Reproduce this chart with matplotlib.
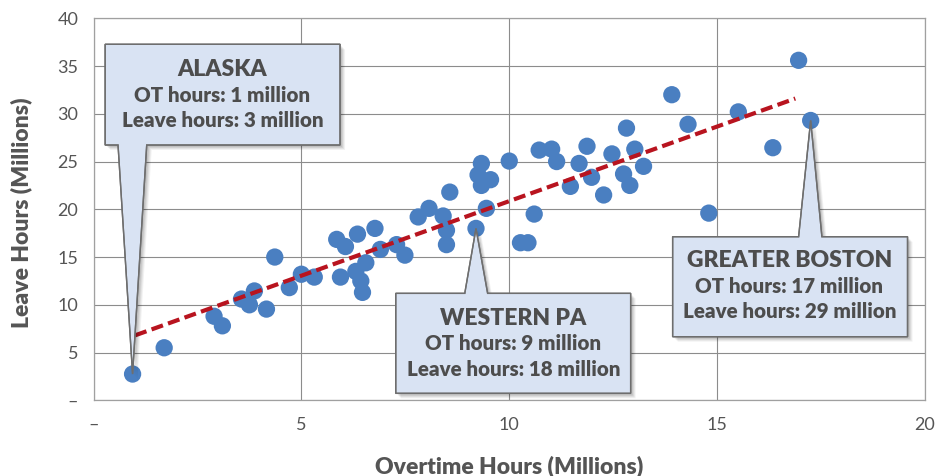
import numpy as np
import matplotlib
matplotlib.use("Agg")
import matplotlib.pyplot as plt
from matplotlib.patches import Polygon
import matplotlib.transforms as mtransforms

plt.rcParams['font.family'] = ['Lato', 'DejaVu Sans']

# ---- data (millions of hours) ----
ot_hours = [0.94, 1.70, 2.90, 3.10, 3.56, 3.75, 3.87, 4.16, 4.36, 4.71,
            5.00, 5.31, 5.85, 6.06, 6.35, 5.94, 6.31, 6.55, 6.43, 6.47,
            6.77, 6.90, 7.29, 7.49, 7.81, 8.07, 8.41, 8.49, 8.49, 8.57,
            9.20, 9.45, 9.33, 9.25, 9.55, 9.33, 10.00, 10.60, 10.27, 10.45,
            10.72, 11.02, 11.14, 11.47, 11.68, 11.87, 11.98, 12.27, 12.47, 12.82,
            12.75, 12.90, 13.02, 13.23, 13.91, 14.30, 14.80, 15.51, 16.34, 16.96,
            17.25]
leave_hours = [2.75, 5.5, 8.8, 7.8, 10.6, 10.0, 11.45, 9.55, 15.0, 11.8,
               13.2, 12.9, 16.85, 16.1, 17.4, 12.9, 13.5, 14.4, 12.5, 11.3,
               18.0, 15.8, 16.3, 15.2, 19.2, 20.1, 19.3, 17.8, 16.3, 21.8,
               18.0, 20.1, 24.8, 23.6, 23.1, 22.5, 25.05, 19.5, 16.5, 16.5,
               26.2, 26.3, 25.0, 22.4, 24.8, 26.6, 23.35, 21.5, 25.8, 28.5,
               23.7, 22.5, 26.3, 24.5, 32.0, 28.9, 19.6, 30.2, 26.45, 35.6,
               29.3]
trend_x = [1.0, 16.88]
trend_y = [6.8, 31.6]

x_ticks = [0, 5, 10, 15, 20]
x_tick_labels = ['–', '5', '10', '15', '20']
y_ticks = [0, 5, 10, 15, 20, 25, 30, 35, 40]
y_tick_labels = ['–', '5', '10', '15', '20', '25', '30', '35', '40']

callout_titles = ['ALASKA', 'WESTERN PA', 'GREATER BOSTON']
callout_ot = ['OT hours: 1 million', 'OT hours: 9 million', 'OT hours: 17 million']
callout_leave = ['Leave hours: 3 million', 'Leave hours: 18 million', 'Leave hours: 29 million']
callout_index = [0, 30, 60]   # which point each callout refers to

# ---- figure ----
fig = plt.figure(figsize=(9.36, 4.76), dpi=100)
ax = fig.add_axes([93.5/936, 1-400.3/476, (925-93.5)/936, (400.3-18.3)/476])
ax.set_xlim(0, 20)
ax.set_ylim(0, 40)

grid_c = '#8c8c8c'
ax.set_xticks(x_ticks)
ax.set_xticklabels(x_tick_labels)
ax.set_yticks(y_ticks)
ax.set_yticklabels(y_tick_labels)
ax.grid(True, color=grid_c, lw=0.8, zorder=0)
ax.set_axisbelow(True)
for s in ax.spines.values():
    s.set_color('#a0a0a0')
    s.set_linewidth(0.9)
ax.tick_params(length=0, labelsize=13, labelcolor='#555555')
ax.tick_params(axis='y', pad=11)
ax.tick_params(axis='x', pad=12)

ax.scatter(ot_hours, leave_hours, s=155, color='#4a7fc1', edgecolors='none', zorder=3)
ax.plot(trend_x, trend_y, color='#b8141f', lw=3.0, dashes=(2.9, 1.3),
        solid_capstyle='butt', dash_capstyle='butt', zorder=4)

fig.text(21.7/936, 1-213/476, 'Leave Hours (Millions)', rotation=90, ha='center', va='center',
         fontsize=16.5, fontweight='heavy', color='#555555')
fig.text(509/936, 1-466.7/476, 'Overtime Hours (Millions)', ha='center', va='center',
         fontsize=16.5, fontweight='heavy', color='#555555')

# ---- callouts (layout in data units) ----
boxes = [
    (0.28, 5.93, 37.28, 26.73, 0.59, 1.28, 'bottom'),
    (7.27, 12.92, 11.20, 0.73, 8.93, 9.48, 'top'),
    (13.93, 19.58, 17.13, 6.66, 16.96, 17.52, 'top'),
]
text_x = [3.10, 10.10, 16.74]
text_y = [(34.69, 31.90, 29.28), (8.59, 5.90, 3.25), (14.69, 11.90, 9.28)]

for k, (x0, x1, yt, yb, p0, p1, side) in enumerate(boxes):
    tip = (ot_hours[callout_index[k]], leave_hours[callout_index[k]])
    if side == 'bottom':
        verts = [(x0, yt), (x1, yt), (x1, yb), (p1, yb), tip, (p0, yb), (x0, yb)]
    else:
        verts = [(x0, yb), (x0, yt), (p0, yt), tip, (p1, yt), (x1, yt), (x1, yb)]
    for (dx, dy, a) in [(5, -5, 0.05), (4, -4, 0.06), (3, -3, 0.07), (2, -2, 0.08)]:
        tr = ax.transData + mtransforms.ScaledTranslation(dx/100, dy/100, fig.dpi_scale_trans)
        sh = Polygon(verts, closed=True, facecolor='black', edgecolor='none', alpha=a,
                     transform=tr, zorder=5)
        ax.add_patch(sh)
    poly = Polygon(verts, closed=True, facecolor='#d9e3f3', edgecolor='#6e6e6e', lw=1.0, zorder=7)
    ax.add_patch(poly)
    ys = np.array([v[1] for v in verts])
    xs = np.array([v[0] for v in verts])
    ylo, yhi = ys.min(), ys.max()
    yy = np.linspace(yhi, ylo, 200)
    t = np.clip((yt - yy) / (yt - yb), 0, 1)
    if side == 'bottom':
        t = np.where(yy < yb, np.clip((yy - tip[1]) / (yb - tip[1]), 0, 1) * 0.6 + 0.4, t)
    else:
        t = np.where(yy > yt, 0.15, t)
    c_top = np.array([0.894, 0.922, 0.969])
    c_bot = np.array([0.812, 0.855, 0.937])
    img = c_top[None, :] * (1 - t[:, None]) + c_bot[None, :] * t[:, None]
    img = img[:, None, :]
    im = ax.imshow(img, extent=(xs.min(), xs.max(), ylo, yhi), aspect='auto',
                   zorder=6, interpolation='bilinear')
    im.set_clip_path(poly)
    edge = Polygon(verts, closed=True, facecolor='none', edgecolor='#6e6e6e', lw=1.0, zorder=8)
    ax.add_patch(edge)
    ax.text(text_x[k], text_y[k][0], callout_titles[k], ha='center', va='center',
            fontsize=16.5, fontweight='heavy', color='#4d4d4d', zorder=9)
    ax.text(text_x[k], text_y[k][1], callout_ot[k], ha='center', va='center',
            fontsize=14.8, fontweight='heavy', color='#4d4d4d', zorder=9)
    ax.text(text_x[k], text_y[k][2], callout_leave[k], ha='center', va='center',
            fontsize=14.8, fontweight='heavy', color='#4d4d4d', zorder=9)

ax.set_xlim(0, 20)
ax.set_ylim(0, 40)
fig.savefig('out.png', dpi=100)
